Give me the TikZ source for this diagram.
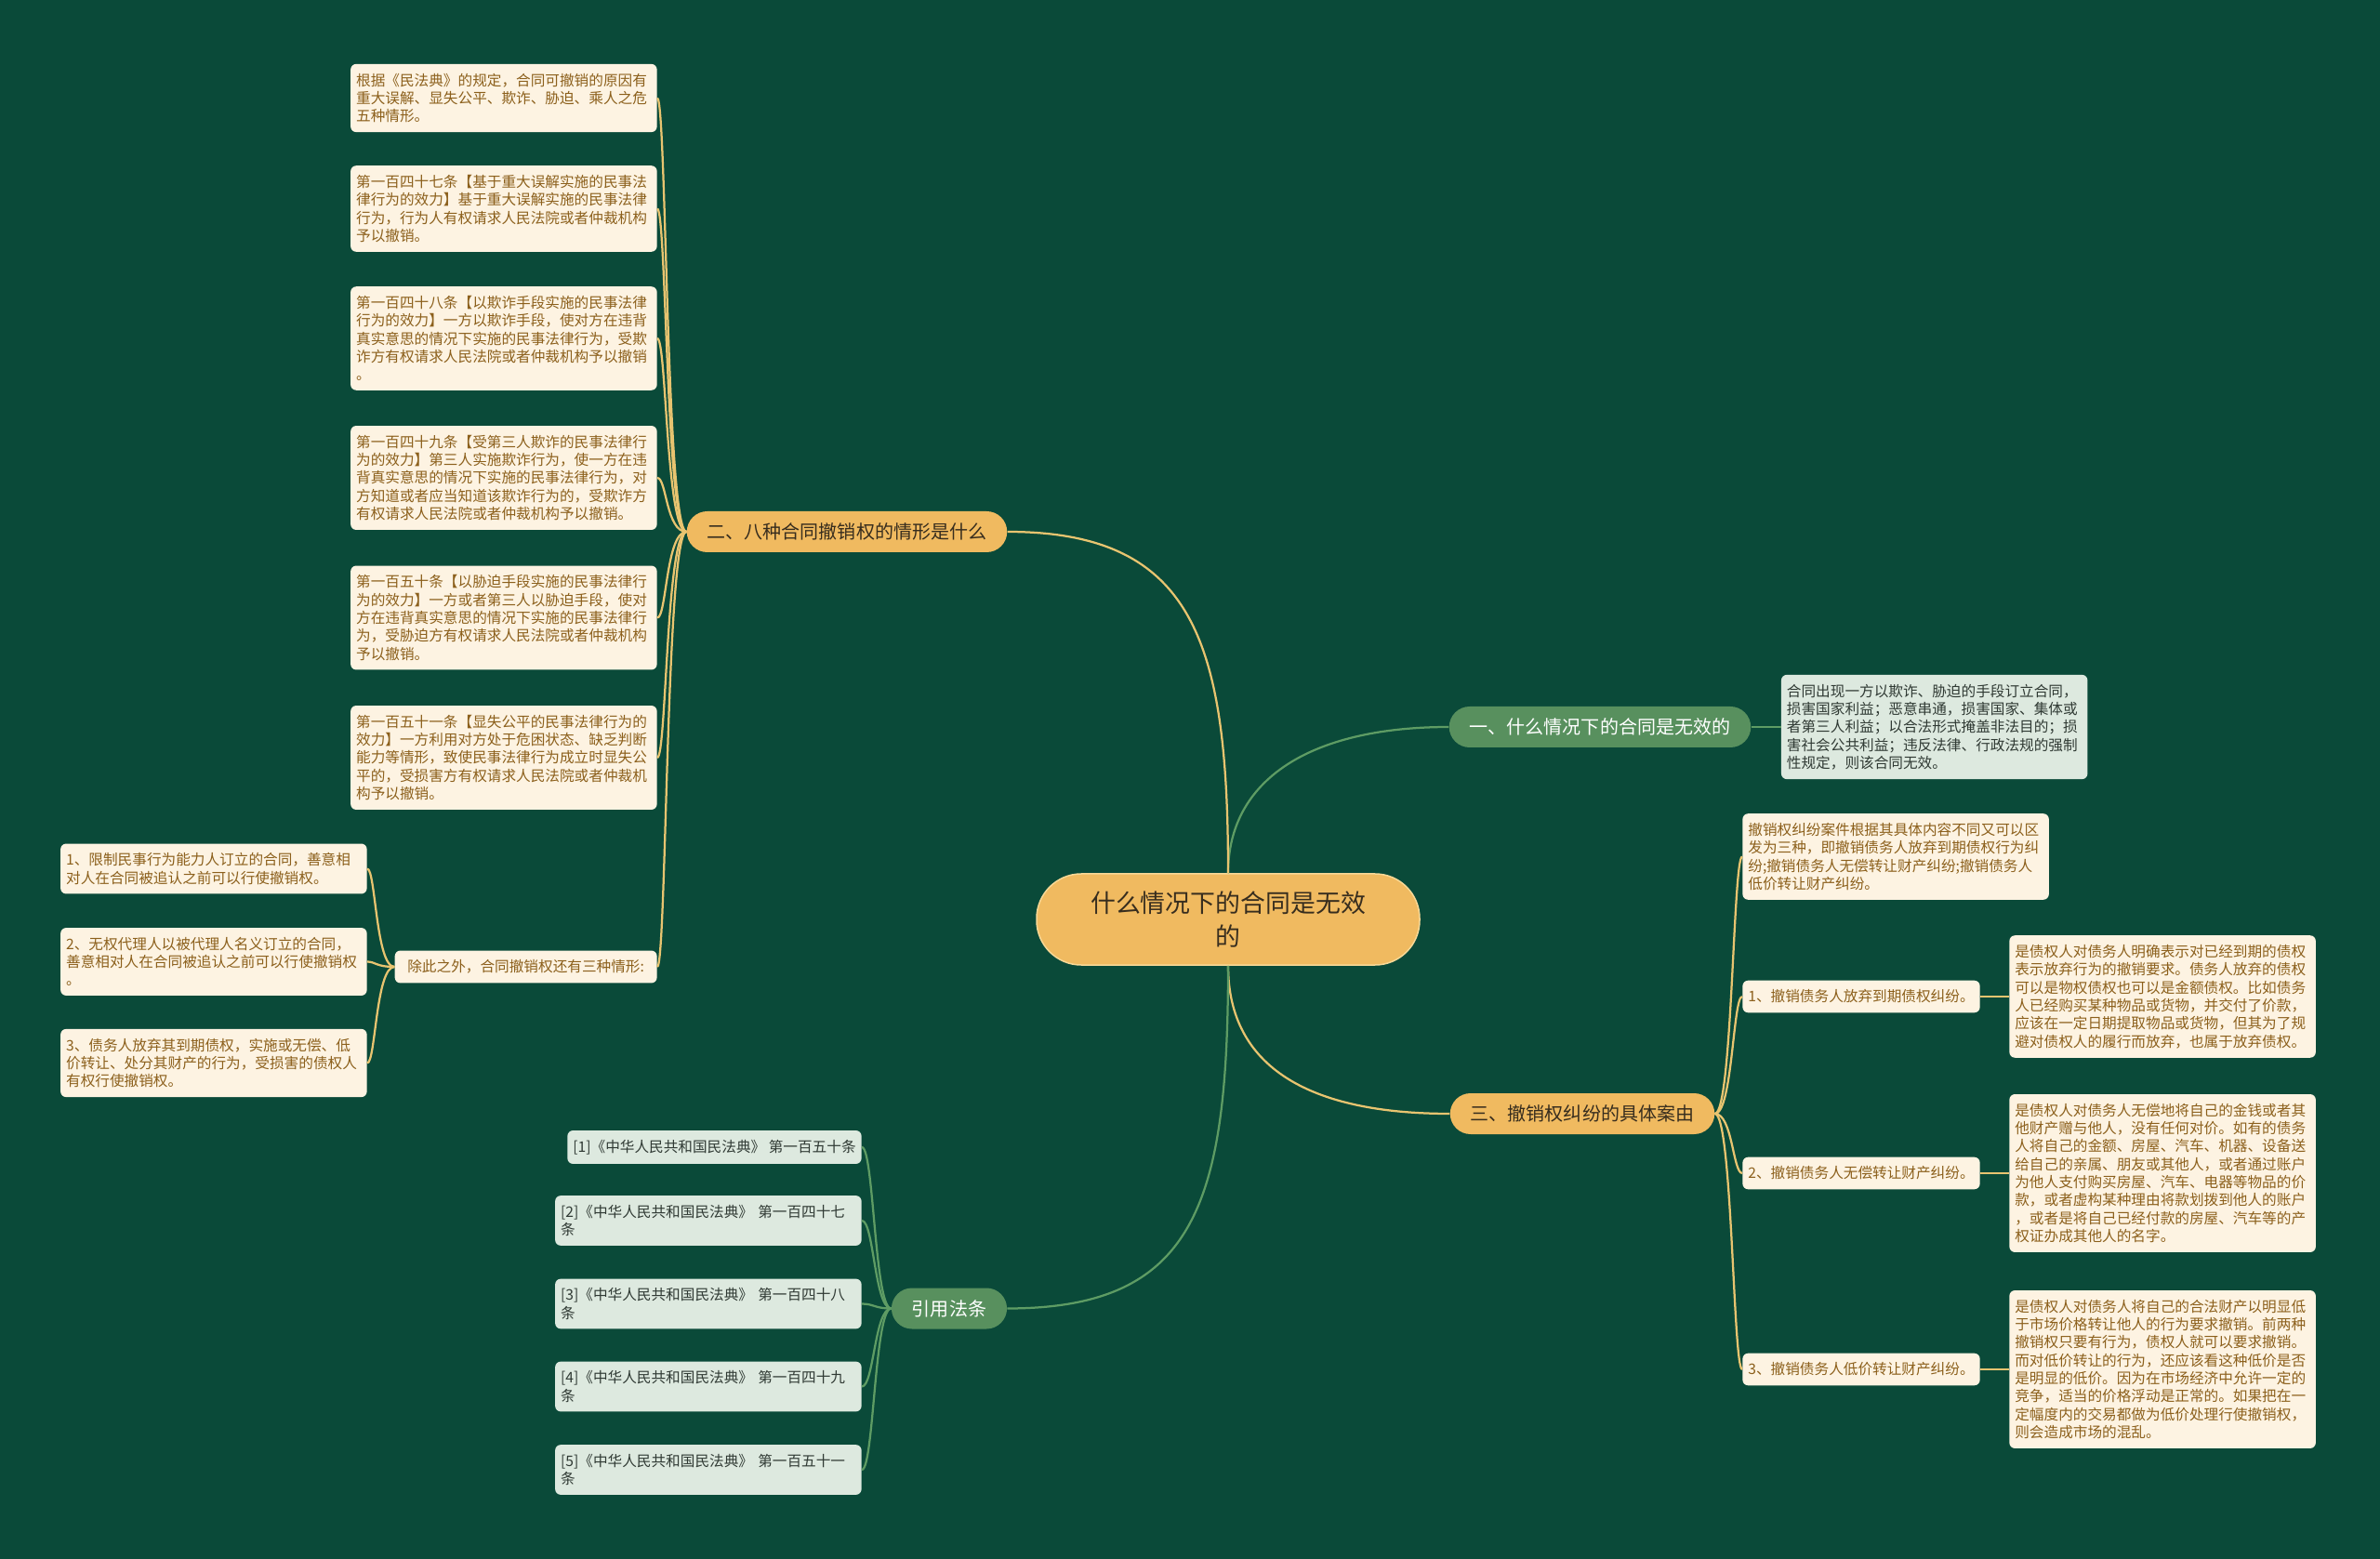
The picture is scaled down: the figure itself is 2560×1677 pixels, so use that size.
\documentclass[tikz,border=0pt]{standalone}
\usepackage{fontspec}
\setmainfont{Noto Sans CJK SC}
\usepackage{xcolor}
\usepackage{tikz}
\usetikzlibrary{positioning}
\definecolor{bgc}{RGB}{10,74,57}
\definecolor{orfill}{RGB}{240,186,96}
\definecolor{rootln}{RGB}{248,216,150}
\definecolor{roottx}{RGB}{55,45,30}
\definecolor{grfill}{RGB}{88,144,94}
\definecolor{crfill}{RGB}{253,243,226}
\definecolor{crtx}{RGB}{140,96,28}
\definecolor{lgfill}{RGB}{221,233,223}
\definecolor{lgtx}{RGB}{48,58,52}
\definecolor{ylc}{RGB}{232,196,112}
\definecolor{glc}{RGB}{94,156,100}
\tikzset{
  root/.style={rectangle, draw=rootln, line width=0.3mm, fill=orfill, rounded corners=9.6mm,
               minimum width=82.4mm, minimum height=19.6mm, align=center, text=roottx,
               font=\fontsize{15.3}{20.4}\selectfont},
  mainor/.style={rectangle, fill=orfill, rounded corners=4.4mm, minimum height=8.8mm,
                 inner xsep=4.4mm, text=roottx, font=\fontsize{11.4}{13}\selectfont},
  maingr/.style={mainor, fill=grfill, text=white},
  tag/.style={rectangle, fill=crfill, rounded corners=1.2mm, text=crtx, inner xsep=1.2mm,
              inner ysep=2mm, font=\fontsize{8.9}{11}\selectfont},
  leaf/.style={tag, text width=63.5mm, align=left},
  gtag/.style={tag, fill=lgfill, text=lgtx},
  gleaf/.style={gtag, text width=63.5mm, align=left},
  yl/.style={draw=ylc, line width=0.45mm},
  gl/.style={draw=glc, line width=0.45mm},
}
\begin{document}
\begin{tikzpicture}[x=0.2mm, y=-0.2mm]
\fill[bgc] (0,0) rectangle (2560,1677);
\useasboundingbox (0,0) rectangle (2560,1677);

\node[root] (c) at (1321,989) {什么情况下的合同是无效\\的};

% 一
\node[maingr] (b1) at (1721,782) {一、什么情况下的合同是无效的};
\node[gleaf, right=6.4mm of b1] (b1t) {合同出现一方以欺诈、胁迫的手段订立合同，\\损害国家利益；恶意串通，损害国家、集体或\\者第三人利益；以合法形式掩盖非法目的；损\\害社会公共利益；违反法律、行政法规的强制\\性规定，则该合同无效。};

% 二
\node[mainor] (b2) at (911,572) {二、八种合同撤销权的情形是什么};
\node[leaf, anchor=east] (la) at (707,105.5) {根据《民法典》的规定，合同可撤销的原因有\\重大误解、显失公平、欺诈、胁迫、乘人之危\\五种情形。};
\node[leaf, anchor=east] (lb) at (707,224.5) {第一百四十七条【基于重大误解实施的民事法\\律行为的效力】基于重大误解实施的民事法律\\行为，行为人有权请求人民法院或者仲裁机构\\予以撤销。};
\node[leaf, anchor=east] (lc) at (707,364) {第一百四十八条【以欺诈手段实施的民事法律\\行为的效力】一方以欺诈手段，使对方在违背\\真实意思的情况下实施的民事法律行为，受欺\\诈方有权请求人民法院或者仲裁机构予以撤销\\。};
\node[leaf, anchor=east] (ld) at (707,514) {第一百四十九条【受第三人欺诈的民事法律行\\为的效力】第三人实施欺诈行为，使一方在违\\背真实意思的情况下实施的民事法律行为，对\\方知道或者应当知道该欺诈行为的，受欺诈方\\有权请求人民法院或者仲裁机构予以撤销。};
\node[leaf, anchor=east] (le) at (707,664.5) {第一百五十条【以胁迫手段实施的民事法律行\\为的效力】一方或者第三人以胁迫手段，使对\\方在违背真实意思的情况下实施的民事法律行\\为，受胁迫方有权请求人民法院或者仲裁机构\\予以撤销。};
\node[leaf, anchor=east] (lf) at (707,815) {第一百五十一条【显失公平的民事法律行为的\\效力】一方利用对方处于危困状态、缺乏判断\\能力等情形，致使民事法律行为成立时显失公\\平的，受损害方有权请求人民法院或者仲裁机\\构予以撤销。};
\node[tag, anchor=east, minimum width=56.4mm] (lg) at (707,1040) {除此之外，合同撤销权还有三种情形:};
\node[leaf, anchor=east] (g1) at (395,934.5) {1、限制民事行为能力人订立的合同，善意相\\对人在合同被追认之前可以行使撤销权。};
\node[leaf, anchor=east] (g2) at (395,1034.5) {2、无权代理人以被代理人名义订立的合同，\\善意相对人在合同被追认之前可以行使撤销权\\。};
\node[leaf, anchor=east] (g3) at (395,1143.5) {3、债务人放弃其到期债权，实施或无偿、低\\价转让、处分其财产的行为，受损害的债权人\\有权行使撤销权。};

% 三
\node[mainor] (b3) at (1702,1198) {三、撤销权纠纷的具体案由};
\node[leaf, anchor=west] (h0) at (1874,921.5) {撤销权纠纷案件根据其具体内容不同又可以区\\发为三种，即撤销债务人放弃到期债权行为纠\\纷;撤销债务人无偿转让财产纠纷;撤销债务人\\低价转让财产纠纷。};
\node[tag, anchor=west] (h1) at (1874,1072) {1、撤销债务人放弃到期债权纠纷。};
\node[tag, anchor=west] (h2) at (1874,1262) {2、撤销债务人无偿转让财产纠纷。};
\node[tag, anchor=west] (h3) at (1874,1473) {3、撤销债务人低价转让财产纠纷。};
\node[leaf, right=6.2mm of h1] (h1d) {是债权人对债务人明确表示对已经到期的债权\\表示放弃行为的撤销要求。债务人放弃的债权\\可以是物权债权也可以是金额债权。比如债务\\人已经购买某种物品或货物，并交付了价款，\\应该在一定日期提取物品或货物，但其为了规\\避对债权人的履行而放弃，也属于放弃债权。};
\node[leaf, right=6.2mm of h2] (h2d) {是债权人对债务人无偿地将自己的金钱或者其\\他财产赠与他人，没有任何对价。如有的债务\\人将自己的金额、房屋、汽车、机器、设备送\\给自己的亲属、朋友或其他人，或者通过账户\\为他人支付购买房屋、汽车、电器等物品的价\\款，或者虚构某种理由将款划拨到他人的账户\\，或者是将自己已经付款的房屋、汽车等的产\\权证办成其他人的名字。};
\node[leaf, right=6.2mm of h3] (h3d) {是债权人对债务人将自己的合法财产以明显低\\于市场价格转让他人的行为要求撤销。前两种\\撤销权只要有行为，债权人就可以要求撤销。\\而对低价转让的行为，还应该看这种低价是否\\是明显的低价。因为在市场经济中允许一定的\\竞争，适当的价格浮动是正常的。如果把在一\\定幅度内的交易都做为低价处理行使撤销权，\\则会造成市场的混乱。};

% 引用
\node[maingr] (b4) at (1021,1407.5) {引用法条};
\node[gtag, anchor=east] (r1) at (927,1234) {[1]《中华人民共和国民法典》 第一百五十条};
\node[gleaf, anchor=east] (r2) at (927,1313) {[2]《中华人民共和国民法典》 第一百四十七\\条};
\node[gleaf, anchor=east] (r3) at (927,1402.5) {[3]《中华人民共和国民法典》 第一百四十八\\条};
\node[gleaf, anchor=east] (r4) at (927,1491.5) {[4]《中华人民共和国民法典》 第一百四十九\\条};
\node[gleaf, anchor=east] (r5) at (927,1581) {[5]《中华人民共和国民法典》 第一百五十一\\条};

% connectors
\draw[gl] (c.north) .. controls +(0,-100) and +(-150,0) .. (b1.west);
\draw[yl] (c.north) .. controls +(0,-250) and +(200,0) .. (b2.east);
\draw[yl] (c.south) .. controls +(0,110) and +(-150,0) .. (b3.west);
\draw[gl] (c.south) .. controls +(0,260) and +(200,0) .. (b4.east);
\draw[gl] (b1) -- (b1t);
\foreach \n in {la,lb,lc,ld,le,lf,lg}
  \draw[yl] (b2.west) .. controls +(-22,0) and +(10,0) .. (\n.east);
\foreach \n in {g1,g2,g3}
  \draw[yl] (lg.west) .. controls +(-20,0) and +(9,0) .. (\n.east);
\foreach \n in {h0,h1,h2,h3}
  \draw[yl] (b3.east) .. controls +(19,0) and +(-10,0) .. (\n.west);
\draw[yl] (h1) -- (h1d);
\draw[yl] (h2) -- (h2d);
\draw[yl] (h3) -- (h3d);
\foreach \n in {r1,r2,r3,r4,r5}
  \draw[gl] (b4.west) .. controls +(-18,0) and +(13,0) .. (\n.east);
\end{tikzpicture}
\end{document}
